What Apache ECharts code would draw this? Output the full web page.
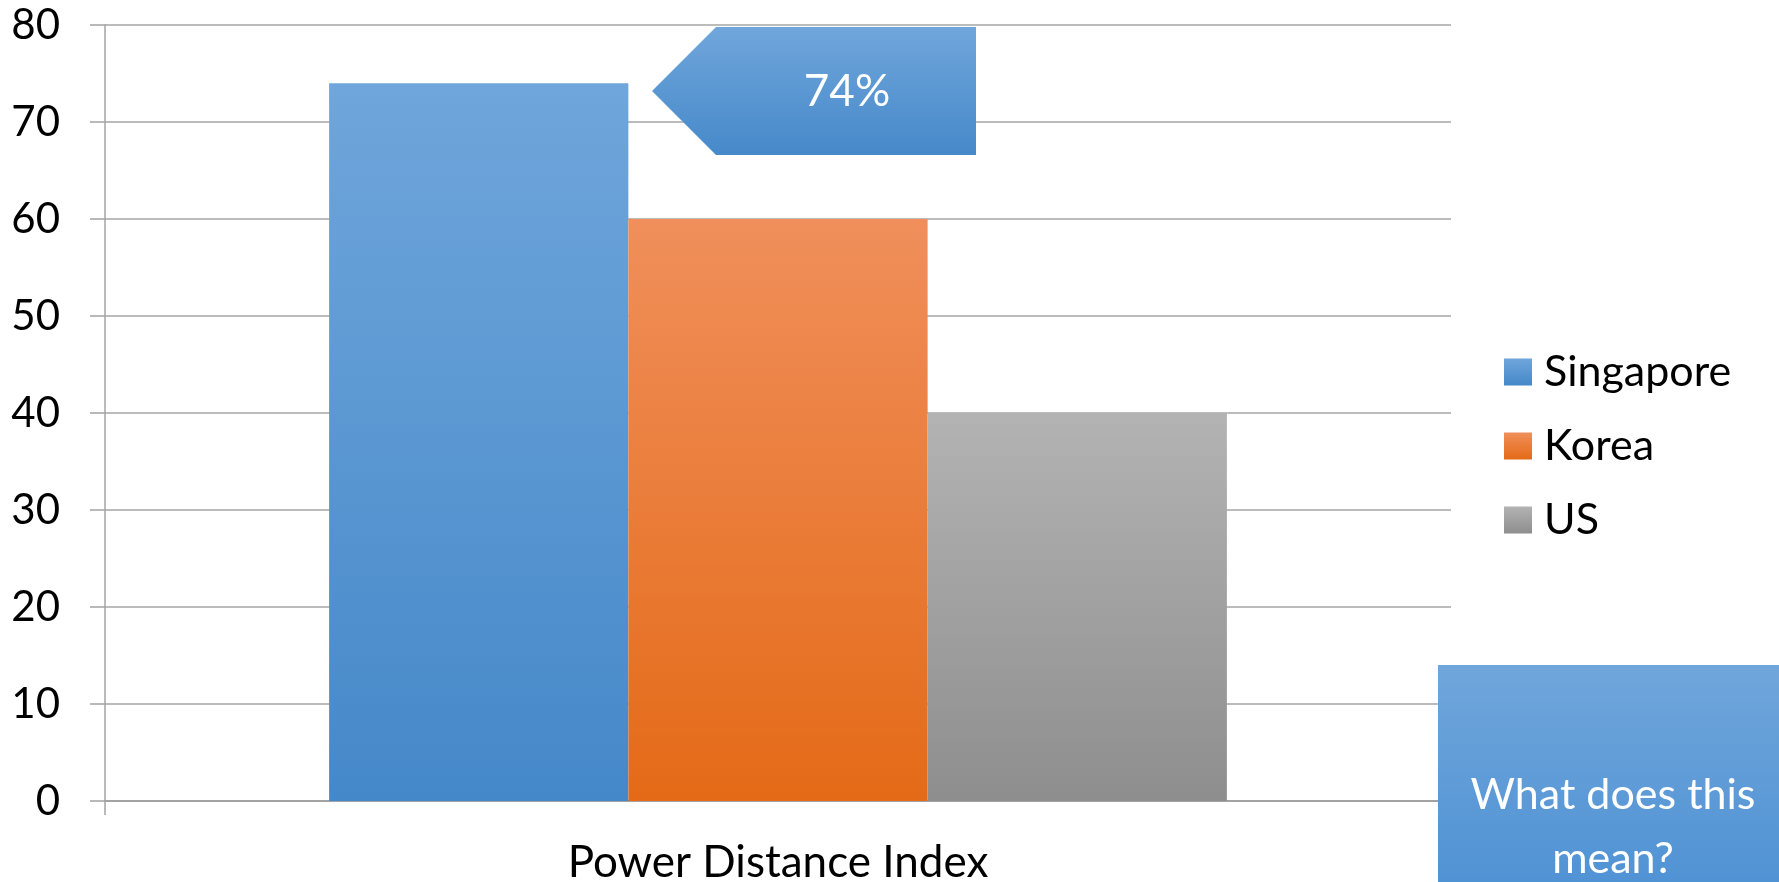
<!DOCTYPE html>
<html>
<head>
<meta charset="utf-8">
<script src="https://cdn.jsdelivr.net/npm/echarts@6/dist/echarts.min.js"></script>
<style>
  html, body { margin: 0; padding: 0; background: #ffffff; }
  #chart { width: 1779px; height: 882px; }
</style>
</head>
<body>
<div id="chart"></div>
<script>
// Power distance scores by country
const categories = ['Power Distance Index'];
const countries = ['Singapore', 'Korea', 'US'];
const singapore = [74];
const korea = [60];
const us = [40];
const yTicks = { min: 0, max: 80, interval: 10 };
const questionText = 'What does this\nmean?';

const FONT = 'Lato, "Open Sans", sans-serif';

function vGrad(top, bottom) {
  return new echarts.graphic.LinearGradient(0, 0, 0, 1, [
    { offset: 0, color: top },
    { offset: 1, color: bottom }
  ]);
}

const fills = [
  vGrad('#6FA6DB', '#4588C9'),
  vGrad('#F08F5B', '#E46A17'),
  vGrad('#B3B3B3', '#8E8E8E')
];

const seriesData = [singapore, korea, us];

const chart = echarts.init(document.getElementById('chart'), null, { renderer: 'canvas' });

const option = {
  animation: false,
  textStyle: { fontFamily: FONT },
  grid: { left: 105, right: 328, top: 25, bottom: 81, containLabel: false, outerBoundsMode: 'none' },
  legend: {
    orient: 'vertical',
    left: 1499,
    top: 343,
    itemWidth: 28,
    itemHeight: 27,
    itemGap: 26,
    icon: 'rect',
    data: countries,
    textStyle: { fontFamily: FONT, fontSize: 43, color: '#000', lineHeight: 48, padding: [0, 0, 0, 7] }
  },
  xAxis: {
    type: 'category',
    data: categories,
    axisLine: { show: true, lineStyle: { color: '#A3A3A3', width: 2 } },
    axisTick: { show: true, length: 14, alignWithLabel: false, lineStyle: { color: '#A3A3A3', width: 1.5 } },
    axisLabel: { fontFamily: FONT, fontSize: 44, color: '#000', margin: 40 }
  },
  yAxis: {
    type: 'value',
    min: yTicks.min,
    max: yTicks.max,
    interval: yTicks.interval,
    axisLine: { show: true, lineStyle: { color: '#A3A3A3', width: 1.5 } },
    axisTick: { show: true, length: 15, lineStyle: { color: '#A3A3A3', width: 1.5 } },
    axisLabel: { fontFamily: FONT, fontSize: 42, color: '#000', margin: 45 },
    splitLine: { show: true, lineStyle: { color: '#A6A6A6', width: 1.5 } }
  },
  series: countries.map((name, i) => ({
    name: name,
    type: 'bar',
    data: seriesData[i],
    barGap: '0%',
    barCategoryGap: '33.3%',
    itemStyle: { color: fills[i] }
  })),
  graphic: [
    {
      // callout arrow pointing at the Singapore bar
      type: 'polygon',
      shape: { points: [[652, 91], [716, 27], [976, 27], [976, 155], [716, 155]] },
      style: { fill: vGrad('#70A6DB', '#4689CA') },
      z: 10
    },
    {
      type: 'text',
      x: 847,
      y: 92,
      style: {
        text: singapore[0] + '%',
        fill: '#ffffff',
        font: '44px ' + FONT,
        align: 'center',
        verticalAlign: 'middle'
      },
      z: 11
    },
    {
      type: 'rect',
      shape: { x: 1438, y: 665, width: 360, height: 260 },
      style: { fill: vGrad('#70A6DB', '#4A8FD3') },
      z: 10
    },
    {
      type: 'text',
      x: 1613,
      y: 827,
      style: {
        text: questionText,
        fill: '#ffffff',
        font: '43px ' + FONT,
        lineHeight: 64,
        align: 'center',
        verticalAlign: 'middle'
      },
      z: 11
    }
  ]
};

chart.setOption(option);
</script>
</body>
</html>
